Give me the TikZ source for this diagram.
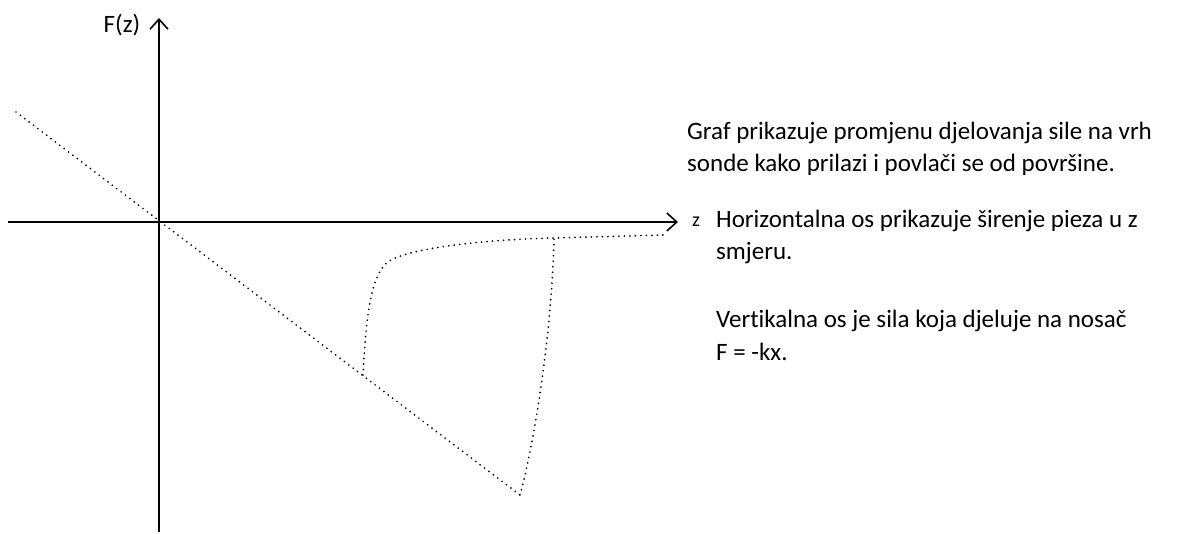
\documentclass[tikz,border=0pt]{standalone}
\usepackage{fontspec}
\setmainfont{Carlito}[Ligatures=NoCommon]
\usetikzlibrary{positioning,arrows.meta}

\begin{document}
\begin{tikzpicture}
	[x=1pt, y=-1pt, font=\fontsize{25}{32.5}\selectfont,
	% STYLES
	% The axis style is used for both axes of the graph
	axis/.style={line width=1.6pt, -{Straight Barb[length=10pt, width=18pt, line width=1.6pt]}},
	% The curve style is used for the dotted force curves
	curve/.style={line width=1.9pt, dash pattern=on 0pt off 5.5pt, line cap=round},
	% The label style is used for the names of the axes
	label/.style={inner sep=0pt, anchor=base},
	% The comment style is used for the text beside the graph (anchored at its last line)
	comment/.style={inner sep=0pt, anchor=base west, align=left}]
	\useasboundingbox (0,0) rectangle (1198,534);
	% Axes
	\coordinate (origin) at (159,222);
	\coordinate (ybottom) at (159,532);
	\coordinate (ytop) at (159,18);
	\coordinate (xleft) at (8,222);
	\coordinate (xright) at (678,222);
	\draw[axis] (ybottom) -- (ytop);
	\draw[axis] (xleft) -- (xright);
	\node [label] (Flabel) at (122,33) {F(z)};
	\node [label, font=\fontsize{20}{24}\selectfont] (zlabel) at (696,227) {z};
	%%%%%%%%%%%%%%%
	% Curves
	\coordinate (linestart) at (16,112);
	\coordinate (lineend) at (520,495);
	\coordinate (jump) at (363,375);
	\coordinate (knee) at (393,259);
	\coordinate (snap) at (554,238);
	\coordinate (far) at (663,235);
	\draw[curve] (linestart) -- (lineend);
	\draw[curve] (jump) .. controls (366,320) and (370,268) .. (knee)
		.. controls (420,246) and (500,239) .. (snap) -- (far);
	\draw[curve] (lineend) .. controls (535,440) and (552,330) .. (snap);
	%%%%%%%%%%%%%%%
	% Text
	\node [comment] (desc) at (687,172) {Graf prikazuje promjenu djelovanja sile na vrh\\
		sonde kako prilazi i povlači se od površine.};
	\node [comment] (horiz) at (716,260) {Horizontalna os prikazuje širenje pieza u z\\
		smjeru.};
	\node [comment] (vert) at (716,360) {Vertikalna os je sila koja djeluje na nosač\\
		F = -kx.};
\end{tikzpicture}
\end{document}
